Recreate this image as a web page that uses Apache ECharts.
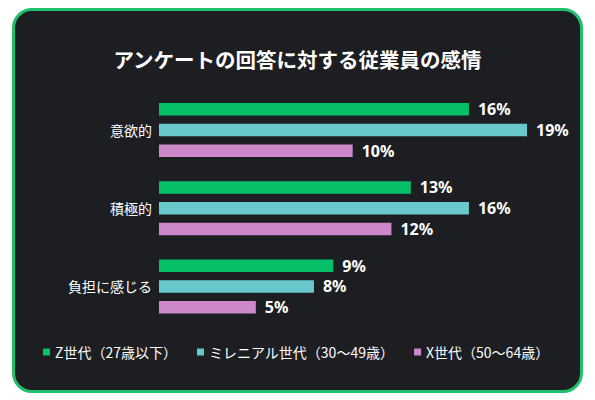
<!DOCTYPE html>
<html>
<head>
<meta charset="utf-8">
<script src="https://cdn.jsdelivr.net/npm/echarts@6/dist/echarts.min.js"></script>
<style>
  html, body { margin: 0; padding: 0; background: #ffffff; }
  #card {
    position: absolute; left: 12px; top: 8px; width: 565px; height: 379px;
    border: 3px solid #1ec06c; border-radius: 20px; background: #1c1e22;
  }
  #chart { position: absolute; left: 0; top: 0; width: 595px; height: 400px; }
</style>
</head>
<body>
<div id="card"></div>
<div id="chart"></div>
<script>
const categories = ['意欲的', '積極的', '負担に感じる'];
const seriesNames = ['Z世代（27歳以下）', 'ミレニアル世代（30～49歳）', 'X世代（50～64歳）'];
const genZ = [16, 13, 9];
const millennial = [19, 16, 8];
const genX = [10, 12, 5];
const colors = ['#05bf69', '#68c8cc', '#cc88c8'];

const chart = echarts.init(document.getElementById('chart'), null, { renderer: 'svg' });
const font = '"Noto Sans CJK JP", "Noto Sans", sans-serif';

const barSeries = [genZ, millennial, genX].map((values, i) => ({
    name: seriesNames[i],
    type: 'bar',
    data: values,
    barWidth: 12.5,
    barGap: '66%',
    itemStyle: { color: colors[i] },
    label: {
        show: true,
        position: 'right',
        distance: 9,
        color: '#ffffff',
        fontFamily: '"Noto Sans", sans-serif',
        fontWeight: 'bold',
        fontSize: 16,
        formatter: '{c}%',
    },
}));

chart.setOption({
    backgroundColor: 'transparent',
    color: colors,
    title: {
        text: 'アンケートの回答に対する従業員の感情',
        left: 'center',
        top: 44,
        textStyle: { color: '#ffffff', fontSize: 20.5, fontWeight: 'bold', fontFamily: font },
    },
    legend: {
        left: 38,
        top: 340,
        icon: 'rect',
        itemWidth: 7,
        itemHeight: 7,
        itemGap: 20,
        textStyle: { color: '#ffffff', fontSize: 14, fontFamily: font },
        data: seriesNames,
    },
    grid: { left: 159, right: 48.6, top: 90.9, bottom: 74.5, containLabel: false },
    xAxis: {
        type: 'value',
        min: 0,
        max: 20,
        show: false,
    },
    yAxis: {
        type: 'category',
        data: categories,
        inverse: true,
        axisLine: { show: false },
        axisTick: { show: false },
        axisLabel: { color: '#ffffff', fontSize: 14, margin: 7, fontFamily: font },
    },
    series: barSeries,
});
</script>
</body>
</html>
